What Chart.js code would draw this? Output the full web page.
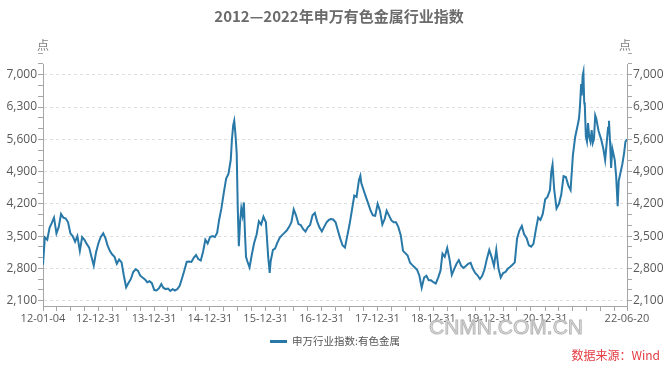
<!DOCTYPE html>
<html><head><meta charset="utf-8">
<script src="https://cdn.jsdelivr.net/npm/chart.js@4.4.0/dist/chart.umd.min.js"></script>
<style>html,body{margin:0;padding:0;background:#fff;}#wrap{width:671px;height:368px;}</style>
</head><body><div id="wrap"><canvas id="c" width="671" height="368"></canvas></div>
<script>
const chartTitle = '2012—2022年申万有色金属行业指数';
const seriesName = '申万行业指数:有色金属';
const unitLabel = '点';
const sourceNote = '数据来源：Wind';
const watermark = 'CNMN.COM.CN';

const dates = [
'2012-01-04','2012-01-16','2012-02-01','2012-02-16','2012-03-01','2012-03-16','2012-04-01','2012-04-16','2012-05-01','2012-05-16','2012-06-01','2012-06-16','2012-07-01','2012-07-16','2012-08-01','2012-08-16','2012-09-01','2012-09-16','2012-10-01','2012-10-16','2012-11-01','2012-11-16','2012-12-01','2012-12-16',
'2013-01-01','2013-01-16','2013-02-01','2013-02-16','2013-03-01','2013-03-16','2013-04-01','2013-04-16','2013-05-01','2013-05-16','2013-06-01','2013-06-16','2013-07-01','2013-07-16','2013-08-01','2013-08-16','2013-09-01','2013-09-16','2013-10-01','2013-10-16','2013-11-01','2013-11-16','2013-12-01','2013-12-16',
'2014-01-01','2014-01-16','2014-02-01','2014-02-16','2014-03-01','2014-03-16','2014-04-01','2014-04-16','2014-05-01','2014-05-16','2014-06-01','2014-06-16','2014-07-01','2014-07-16','2014-08-01','2014-08-16','2014-09-01','2014-09-16','2014-10-01','2014-10-16','2014-11-01','2014-11-16','2014-12-01','2014-12-16',
'2015-01-01','2015-01-16','2015-02-01','2015-02-16','2015-03-01','2015-03-16','2015-04-01','2015-04-16','2015-05-01','2015-05-16','2015-05-24','2015-06-01','2015-06-08','2015-06-16','2015-06-24','2015-07-01','2015-07-08','2015-07-16','2015-07-24','2015-08-01','2015-08-10','2015-08-16','2015-08-24','2015-09-01','2015-09-16','2015-10-01','2015-10-16','2015-11-01','2015-11-16','2015-12-01','2015-12-16',
'2016-01-01','2016-01-16','2016-01-26','2016-02-01','2016-02-16','2016-03-01','2016-03-16','2016-04-01','2016-04-16','2016-05-01','2016-05-16','2016-06-01','2016-06-16','2016-07-01','2016-07-16','2016-08-01','2016-08-16','2016-09-01','2016-09-16','2016-10-01','2016-10-16','2016-11-01','2016-11-16','2016-12-01','2016-12-16',
'2017-01-01','2017-01-16','2017-02-01','2017-02-16','2017-03-01','2017-03-16','2017-04-01','2017-04-16','2017-05-01','2017-05-16','2017-06-01','2017-06-16','2017-07-01','2017-07-16','2017-08-01','2017-08-16','2017-09-01','2017-09-10','2017-09-16','2017-10-01','2017-10-16','2017-11-01','2017-11-16','2017-12-01','2017-12-16',
'2018-01-01','2018-01-16','2018-02-01','2018-02-16','2018-03-01','2018-03-16','2018-04-01','2018-04-16','2018-05-01','2018-05-16','2018-06-01','2018-06-16','2018-07-01','2018-07-16','2018-08-01','2018-08-16','2018-09-01','2018-09-16','2018-10-01','2018-10-16','2018-11-01','2018-11-16','2018-12-01','2018-12-16',
'2019-01-01','2019-01-16','2019-02-01','2019-02-16','2019-03-01','2019-03-16','2019-04-01','2019-04-16','2019-05-01','2019-05-16','2019-06-01','2019-06-16','2019-07-01','2019-07-16','2019-08-01','2019-08-16','2019-09-01','2019-09-16','2019-10-01','2019-10-16','2019-11-01','2019-11-16','2019-12-01','2019-12-16',
'2020-01-01','2020-01-16','2020-02-01','2020-02-16','2020-03-01','2020-03-16','2020-04-01','2020-04-16','2020-05-01','2020-05-16','2020-06-01','2020-06-16','2020-07-01','2020-07-16','2020-08-01','2020-08-16','2020-09-01','2020-09-16','2020-10-01','2020-10-16','2020-11-01','2020-11-16','2020-12-01','2020-12-16',
'2021-01-01','2021-01-16','2021-02-01','2021-02-10','2021-02-18','2021-03-01','2021-03-16','2021-04-01','2021-04-16','2021-05-01','2021-05-16','2021-06-01','2021-06-16','2021-07-01','2021-07-16','2021-08-01','2021-08-10','2021-08-16','2021-08-24','2021-08-28','2021-09-03','2021-09-08','2021-09-13','2021-09-17','2021-09-24','2021-10-01','2021-10-08','2021-10-16','2021-10-24','2021-11-01','2021-11-08','2021-11-16','2021-11-24','2021-12-01','2021-12-16',
'2022-01-01','2022-01-16','2022-01-28','2022-02-08','2022-02-16','2022-02-22','2022-03-01','2022-03-08','2022-03-16','2022-04-01','2022-04-10','2022-04-20','2022-04-27','2022-05-10','2022-05-20','2022-06-01','2022-06-10','2022-06-20'
];
const values = [
2880,3470,3420,3680,3780,3900,3560,3700,3980,3900,3880,3800,3560,3500,3380,3500,3180,3480,3420,3330,3250,3050,2860,3150,
3350,3480,3560,3450,3300,3180,3100,3050,2900,2990,2930,2640,2390,2480,2570,2720,2780,2750,2640,2600,2560,2500,2520,2480,
2330,2320,2370,2460,2380,2350,2360,2310,2350,2320,2350,2420,2580,2750,2940,2950,2940,3030,3090,3000,2970,3160,3420,3340,
3480,3500,3480,3570,3850,4100,4450,4750,4850,5150,5600,5900,6000,5700,5300,4100,3280,3800,4100,3950,4230,3650,3050,2960,2820,3100,3350,3530,3820,3750,3920,
3800,3050,2700,2950,3200,3230,3360,3470,3520,3570,3620,3700,3800,4080,3950,3760,3740,3650,3600,3690,3740,3950,4000,3820,3690,
3600,3700,3800,3850,3870,3860,3800,3620,3450,3300,3250,3500,3750,4050,4380,4350,4720,4810,4650,4500,4350,4200,4050,3950,3940,
4200,4050,3750,3870,4050,3950,3840,3800,3800,3700,3520,3180,3130,3080,2920,2870,2820,2770,2640,2380,2600,2640,2540,2540,
2500,2470,2600,2750,3120,3050,3240,3000,2660,2780,2900,2980,2860,2810,2850,2900,2920,2790,2700,2650,2570,2640,2780,3000,
3200,3050,2850,3200,2800,2600,2700,2720,2790,2830,2880,2930,3450,3620,3720,3540,3460,3300,3270,3330,3640,3900,3850,3980,
4300,4350,4500,4900,5050,4500,4100,4200,4400,4800,4780,4600,4500,5250,5650,5900,6050,6300,6800,6550,6980,7060,6400,6330,5650,5550,5950,5650,5550,5800,5520,5600,6120,6050,5780,
5610,5400,5150,5550,5850,6000,5550,4980,5400,5150,4800,4150,4700,4900,5050,5300,5550,5600
];

const yTickValues = [2100, 2800, 3500, 4200, 4900, 5600, 6300, 7000];
const yMin = 1983.33, yMax = 7233.33;
const xTickLabels = ['12-01-04','12-12-31','13-12-31','14-12-31','15-12-31','16-12-31','17-12-31','18-12-31','19-12-31','20-12-31','22-06-20'];

const day = s => Date.parse(s + 'T00:00:00Z') / 86400000;
const xMin = day('2012-01-04'), xMax = day('2022-06-20');

const labelMap = new Map(xTickLabels.map(l => [day('20' + l), l]));
const xTickSet = new Set(labelMap.keys());
for (let y = 2012; y <= 2022; y++) {
  for (const md of ['03-31','06-30','09-30','12-31']) {
    const v = day(y + '-' + md);
    if (v > xMin && v < xMax) xTickSet.add(v);
  }
}
const xTickVals = [...xTickSet].sort((a, b) => a - b);

const yTickVals = [];
yTickValues.forEach(v => {
  yTickVals.push(v);
  for (let k = 1; k <= 2; k++) yTickVals.push(v + k * 700 / 3);
});
const isMajorY = v => yTickValues.includes(Math.round(v));

const lineColor = '#2878a8';
const axisColor = '#a6a6a6';
const tickFontColor = '#595959';

const textPlugin = {
  id: 'texts',
  afterDraw(chart) {
    const ctx = chart.ctx;
    ctx.save();
    ctx.textBaseline = 'middle';
    ctx.fillStyle = '#6b6b6b';
    ctx.font = 'bold 15px "Noto Sans CJK SC"';
    ctx.textAlign = 'center';
    ctx.fillText(chartTitle, 339, 16);
    ctx.font = '12px "Noto Sans CJK SC"';
    ctx.fillStyle = '#808080';
    ctx.fillText(unitLabel, 43, 45);
    ctx.fillText(unitLabel, 625, 45);
    ctx.font = '21px "Liberation Sans"';
    ctx.textAlign = 'left';
    ctx.fillStyle = '#dedede';
    ctx.strokeStyle = '#b4b4b4';
    ctx.lineWidth = 0.9;
    ctx.fillText(watermark, 429, 328);
    ctx.strokeText(watermark, 429, 328);
    ctx.strokeStyle = lineColor;
    ctx.lineWidth = 3;
    ctx.beginPath(); ctx.moveTo(270, 341.5); ctx.lineTo(287, 341.5); ctx.stroke();
    ctx.fillStyle = '#555';
    ctx.font = '10.5px "Noto Sans CJK SC"';
    ctx.fillText(chart.data.datasets[0].label, 292, 341);
    ctx.fillStyle = '#e23b40';
    ctx.font = '12px "Noto Sans CJK SC"';
    ctx.textAlign = 'right';
    ctx.fillText(sourceNote, 660, 355);
    ctx.restore();
  }
};

const yScaleCommon = (pos) => ({
  type: 'linear', position: pos, min: yMin, max: yMax,
  afterBuildTicks: s => { s.ticks = yTickVals.map(v => ({ value: v })); },
  ticks: {
    autoSkip: false, padding: 1, color: tickFontColor,
    font: { family: '"Open Sans"', size: 12 },
    callback: v => isMajorY(v) ? Math.round(v).toLocaleString('en-US') : ''
  },
  border: { display: true, color: axisColor, width: 1, dash: pos === 'left' ? [3, 3] : [] },
  grid: {
    drawOnChartArea: pos === 'left',
    color: c => (c.tick && isMajorY(c.tick.value)) ? '#dedede' : 'rgba(0,0,0,0)',
    tickColor: axisColor, tickLength: 5, lineWidth: 1
  }
});

new Chart(document.getElementById('c'), {
  type: 'line',
  data: {
    datasets: [{
      label: seriesName,
      data: dates.map((d, i) => ({ x: day(d), y: values[i] })),
      borderColor: lineColor, borderWidth: 2,
      pointRadius: 0, tension: 0, fill: false
    }]
  },
  options: {
    responsive: false, animation: false,
    layout: { padding: { top: 64, left: 0, right: 0, bottom: 0 } },
    plugins: { legend: { display: false }, title: { display: false }, tooltip: { enabled: false } },
    scales: {
      x: {
        type: 'linear', min: xMin, max: xMax,
        afterBuildTicks: s => { s.ticks = xTickVals.map(v => ({ value: v })); },
        afterFit: s => { s.height = 62; },
        ticks: {
          autoSkip: false, maxRotation: 0, minRotation: 0, padding: 1, color: tickFontColor,
          font: { family: '"Open Sans"', size: 11 },
          callback: v => labelMap.get(v) || ''
        },
        border: { display: true, color: axisColor, width: 1 },
        grid: { drawOnChartArea: false, tickColor: axisColor, tickLength: 5 }
      },
      y: Object.assign(yScaleCommon('left'), { afterFit: s => { s.width = 43; } }),
      y2: Object.assign(yScaleCommon('right'), { afterFit: s => { s.width = 44; } })
    }
  },
  plugins: [textPlugin]
});
</script></body></html>
